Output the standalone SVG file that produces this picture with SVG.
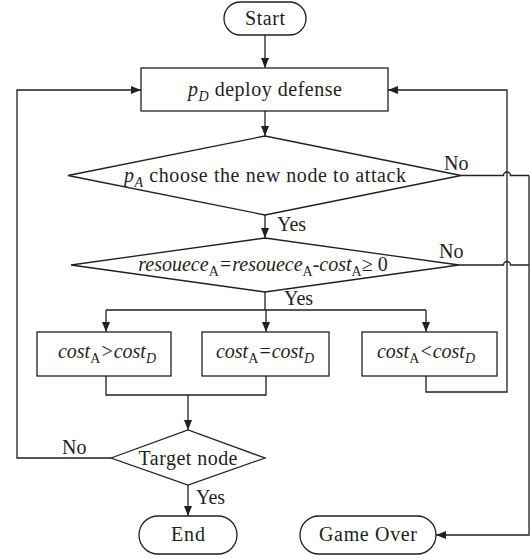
<svg xmlns="http://www.w3.org/2000/svg" width="530" height="559" viewBox="0 0 530 559">
<defs>
<marker id="ah" markerWidth="10" markerHeight="8" refX="10" refY="4" orient="auto" markerUnits="userSpaceOnUse">
<path d="M0,0 L10,4 L0,8 Z" fill="#231f20"/>
</marker>
<style>
.s{fill:#fff;stroke:#231f20;stroke-width:1.3}
.c{fill:none;stroke:#231f20;stroke-width:1.3}
text{font-size:20px;fill:#231f20}
.m{text-anchor:middle}
.i{font-style:italic}
.sub{font-size:14px}
</style>
</defs>
<rect width="530" height="559" fill="#fff"/>
<g font-family="'Liberation Serif', 'Times New Roman', serif">
<g id="connectors">
<path class="c" d="M265,35 V68" marker-end="url(#ah)"/>
<path class="c" d="M265,111 V136" marker-end="url(#ah)"/>
<path class="c" d="M265,215 V238" marker-end="url(#ah)"/>
<path class="c" d="M265,292 V310 M106,310 H426"/>
<path class="c" d="M106,310 V332" marker-end="url(#ah)"/>
<path class="c" d="M266,310 V332" marker-end="url(#ah)"/>
<path class="c" d="M426,310 V332" marker-end="url(#ah)"/>
<path class="c" d="M106,376 V395 H266 V376"/>
<path class="c" d="M188,395 V430" marker-end="url(#ah)"/>
<path class="c" d="M111,458 H17 V90 H141" marker-end="url(#ah)"/>
<path class="c" d="M426,376 V392 H507 V90 H388" marker-end="url(#ah)"/>
<path class="c" d="M461,175.5 H503.5 A3.5,3.5 0 0 1 510.5,175.5 H529"/>
<path class="c" d="M459,265 H503.5 A3.5,3.5 0 0 1 510.5,265 H529"/>
<path class="c" d="M529,175.5 V535 H436" marker-end="url(#ah)"/>
<path class="c" d="M188,485 V516" marker-end="url(#ah)"/>
<text x="444" y="170">No</text>
<text x="439" y="258">No</text>
<text x="277" y="231">Yes</text>
<text x="284" y="305">Yes</text>
<text x="62" y="454">No</text>
<text x="196" y="504">Yes</text>
</g>
<g id="start">
<rect class="s" x="224" y="2" width="82" height="33" rx="16.5"/>
<text class="m" x="265" y="25" textLength="40">Start</text>
</g>
<g id="deploy">
<rect class="s" x="141" y="68" width="247" height="43"/>
<text class="m" x="265" y="96" textLength="154"><tspan class="i">p</tspan><tspan class="i sub" dy="5">D</tspan><tspan dy="-5"> deploy defense</tspan></text>
</g>
<g id="choose">
<polygon class="s" points="68,175.5 265,136 461,175.5 265,215"/>
<text class="m" x="265" y="182" textLength="282"><tspan class="i">p</tspan><tspan class="i sub" dy="5">A</tspan><tspan dy="-5"> choose the new node to attack</tspan></text>
</g>
<g id="resource">
<polygon class="s" points="71,265 265,238 459,265 265,292"/>
<text class="m" x="263" y="271"><tspan class="i">resouece</tspan><tspan class="sub" dy="5">A</tspan><tspan class="i" dy="-5">=resouece</tspan><tspan class="sub" dy="5">A</tspan><tspan class="i" dy="-5">-cost</tspan><tspan class="sub" dy="5">A</tspan><tspan dy="-5">≥ 0</tspan></text>
</g>
<g id="gt">
<rect class="s" x="37" y="332" width="134" height="44"/>
<text class="m" x="107" y="358" textLength="98" lengthAdjust="spacingAndGlyphs"><tspan class="i">cost</tspan><tspan class="sub" dy="5">A</tspan><tspan class="i" dy="-5">&gt;cost</tspan><tspan class="i sub" dy="5">D</tspan></text>
</g>
<g id="eq">
<rect class="s" x="202" y="332" width="127" height="44"/>
<text class="m" x="265" y="358" textLength="98" lengthAdjust="spacingAndGlyphs"><tspan class="i">cost</tspan><tspan class="sub" dy="5">A</tspan><tspan class="i" dy="-5">=cost</tspan><tspan class="i sub" dy="5">D</tspan></text>
</g>
<g id="lt">
<rect class="s" x="362" y="332" width="135" height="44"/>
<text class="m" x="426" y="358" textLength="98" lengthAdjust="spacingAndGlyphs"><tspan class="i">cost</tspan><tspan class="sub" dy="5">A</tspan><tspan class="i" dy="-5">&lt;cost</tspan><tspan class="i sub" dy="5">D</tspan></text>
</g>
<g id="target">
<polygon class="s" points="111,458 188,430 265,458 188,485"/>
<text class="m" x="188" y="465" textLength="99">Target node</text>
</g>
<g id="end">
<rect class="s" x="139" y="516" width="98" height="38" rx="19"/>
<text class="m" x="188" y="541" textLength="34">End</text>
</g>
<g id="gameover">
<rect class="s" x="300" y="516" width="136" height="38" rx="19"/>
<text class="m" x="368" y="541" textLength="98">Game Over</text>
</g>
</g>
</svg>
